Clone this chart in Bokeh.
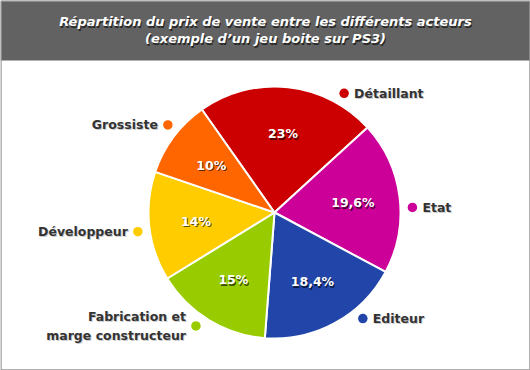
import math
from bokeh.plotting import figure
from bokeh.models import Range1d
from bokeh.core.properties import value
from bokeh.embed import file_html
from bokeh.resources import INLINE

# ---------------- data ----------------
categories = ["Détaillant", "Etat", "Editeur", "Fabrication et\nmarge constructeur", "Développeur", "Grossiste"]
shares = [23.0, 19.6, 18.4, 15.0, 14.0, 10.0]
share_labels = ["23%", "19,6%", "18,4%", "15%", "14%", "10%"]
colors = ["#CC0000", "#CC0099", "#2145A8", "#99CC00", "#FFCC00", "#FF6600"]
title_lines = ["Répartition du prix de vente entre les différents acteurs",
               "(exemple d’un jeu boite sur PS3)"]

# ---------------- layout ----------------
W, H = 530, 370
CX, CY = 274, H - 212
R = 126
START = 125.2          # degrees, ccw edge of first slice, slices go clockwise
LABEL_R = 79
CALLOUT_R = 138
callout_angles = [59.7, 2.1, -50.2, -124.7, -172.0, 140.6]
FONT = "DejaVu Sans"

p = figure(width=W, height=H, output_backend="svg", toolbar_location=None,
           x_range=Range1d(0, W), y_range=Range1d(0, H), min_border=0,
           tools="")
p.axis.visible = False
p.grid.visible = False
p.outline_line_color = None
p.background_fill_color = "white"
p.border_fill_color = "white"

# title bar + frame
p.quad(left=0, right=W, bottom=H - 60, top=H, fill_color="#626262", line_color=None)
p.quad(left=0.5, right=W - 0.5, bottom=0.5, top=H - 0.5, fill_color=None,
       line_color="#999999", line_width=1.5)

tx = W / 2
ty = [H - 21, H - 38]
p.text(x=[tx + 1] * 2, y=[t - 1.5 for t in ty], text=title_lines, text_align="center",
       text_baseline="middle", text_font=value(FONT), text_font_style="bold italic",
       text_font_size="13px", text_color="#000000", text_alpha=0.6)
p.text(x=[tx] * 2, y=ty, text=title_lines, text_align="center",
       text_baseline="middle", text_font=value(FONT), text_font_style="bold italic",
       text_font_size="13px", text_color="white")

# pie slices
starts, ends, mids = [], [], []
cum = 0.0
for v in shares:
    a0 = START - cum * 3.6
    a1 = a0 - v * 3.6
    starts.append(math.radians(a1))
    ends.append(math.radians(a0))
    mids.append(math.radians((a0 + a1) / 2))
    cum += v

p.wedge(x=CX, y=CY, radius=R, start_angle=starts, end_angle=ends,
        direction="anticlock", fill_color=colors, line_color="white", line_width=2)

# percentage labels
lx = [CX + LABEL_R * math.cos(m) for m in mids]
ly = [CY + LABEL_R * math.sin(m) for m in mids]
p.text(x=[x + 1 for x in lx], y=[y - 1.5 for y in ly], text=share_labels,
       text_align="center", text_baseline="middle", text_font=value(FONT),
       text_font_style="bold", text_font_size="12.5px", text_color="#000000", text_alpha=0.65)
p.text(x=lx, y=ly, text=share_labels, text_align="center", text_baseline="middle",
       text_font=value(FONT), text_font_style="bold", text_font_size="12.5px",
       text_color="white")

# callout dots + category labels
dx = [CX + CALLOUT_R * math.cos(math.radians(a)) for a in callout_angles]
dy = [CY + CALLOUT_R * math.sin(math.radians(a)) for a in callout_angles]
p.scatter(x=dx, y=dy, size=9.5, fill_color=colors, line_color=None)

right_i = [i for i, a in enumerate(callout_angles) if abs(a) < 90]
left_i = [i for i, a in enumerate(callout_angles) if abs(a) >= 90]
for idx, align, off in ((right_i, "left", 10), (left_i, "right", -10)):
    xs = [dx[i] + off for i in idx]
    ys = [dy[i] for i in idx]
    txt = [categories[i] for i in idx]
    p.text(x=[x + 1 for x in xs], y=[y - 1 for y in ys], text=txt, text_align=align,
           text_baseline="middle", text_font=value(FONT), text_font_style="bold",
           text_font_size="12.5px", text_color="#999999", text_alpha=0.5,
           text_line_height=1.3)
    p.text(x=xs, y=ys, text=txt, text_align=align, text_baseline="middle",
           text_font=value(FONT), text_font_style="bold", text_font_size="12.5px",
           text_color="#333333", text_line_height=1.3)

open("out.html", "w").write(file_html(p, INLINE))
